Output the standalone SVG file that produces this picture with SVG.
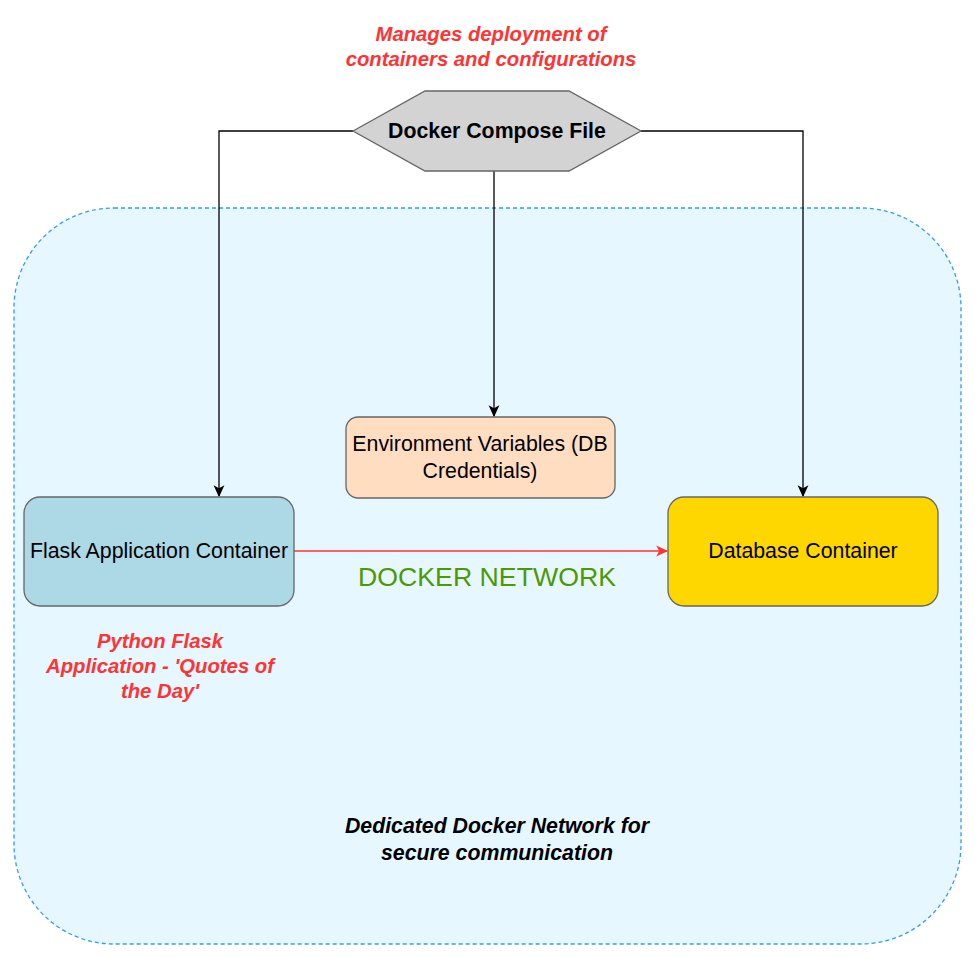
<svg xmlns="http://www.w3.org/2000/svg" width="975" height="958" viewBox="0 0 975 958">
<defs>
<style>
.t{font-family:"Liberation Sans",Arial,sans-serif;font-size:21.3px;text-anchor:middle;fill:#000}
.bi{font-weight:bold;font-style:italic;font-size:20.3px}
.big{font-size:21.3px}
.red{fill:#FF3333}
.node{stroke:#666666;stroke-width:1.3}
.conn{fill:none;stroke:#000;stroke-width:1.3}
</style>
<marker id="ah" viewBox="0 0 10 10" refX="9" refY="5" markerWidth="12" markerHeight="12" markerUnits="userSpaceOnUse" orient="auto">
<path d="M0,0.5 L10,5 L0,9.5 L2.5,5 Z" fill="#000"/>
</marker>
<marker id="ahr" viewBox="0 0 10 10" refX="9" refY="5" markerWidth="12" markerHeight="12" markerUnits="userSpaceOnUse" orient="auto">
<path d="M0,0.5 L10,5 L0,9.5 L2.5,5 Z" fill="#FF3333"/>
</marker>
</defs>
<rect width="975" height="958" fill="#fff"/>

<g id="network">
<rect x="14" y="208" width="947" height="736" rx="100" ry="100" fill="#E6F7FF" stroke="#3399FF" stroke-width="1.3" stroke-dasharray="4 3"/>
<text class="t bi big" x="497" y="833">Dedicated Docker Network for</text>
<text class="t bi big" x="497" y="860">secure communication</text>
</g>

<g id="manages-label">
<text class="t bi red" x="491" y="41">Manages deployment of</text>
<text class="t bi red" x="491" y="66">containers and configurations</text>
</g>

<g id="connectors">
<path class="conn" d="M353,131 H219 V496" marker-end="url(#ah)"/>
<path class="conn" d="M494,171 V416" marker-end="url(#ah)"/>
<path class="conn" d="M641,131 H803 V496" marker-end="url(#ah)"/>
<path d="M294,551 H667" fill="none" stroke="#FF3333" stroke-width="1.3" marker-end="url(#ahr)"/>
<text class="t" x="487" y="586" style="font-size:26.7px;fill:#4D9900">DOCKER NETWORK</text>
</g>

<g id="compose">
<polygon class="node" points="353,131 425,91 569,91 641,131 569,171 425,171" fill="#D3D3D3"/>
<text class="t" x="497" y="138" font-weight="bold">Docker Compose File</text>
</g>

<g id="env">
<rect class="node" x="346" y="417" width="269" height="81" rx="12" ry="12" fill="#FFDDC1"/>
<text class="t" x="480" y="451">Environment Variables (DB</text>
<text class="t" x="480" y="478">Credentials)</text>
</g>

<g id="flask">
<rect class="node" x="24" y="497" width="270" height="109" rx="16" ry="16" fill="#ADD8E6"/>
<text class="t" x="159" y="558">Flask Application Container</text>
</g>

<g id="flask-label">
<text class="t bi red" x="160" y="648">Python Flask</text>
<text class="t bi red" x="160" y="673">Application - 'Quotes of</text>
<text class="t bi red" x="160" y="698">the Day'</text>
</g>

<g id="database">
<rect class="node" x="668" y="497" width="270" height="109" rx="16" ry="16" fill="#FFD700"/>
<text class="t" x="803" y="558">Database Container</text>
</g>
</svg>
